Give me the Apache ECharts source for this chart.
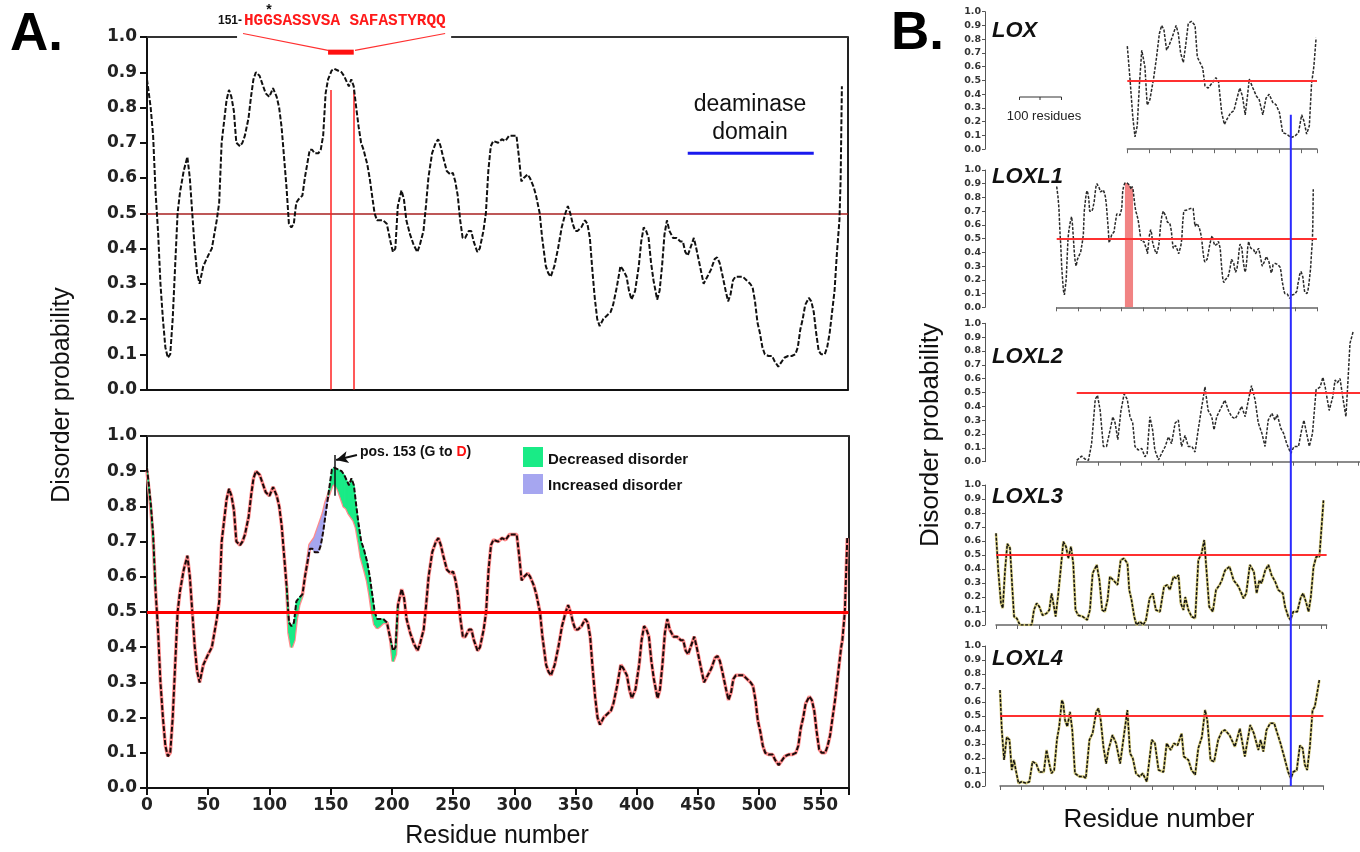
<!DOCTYPE html>
<html><head><meta charset="utf-8">
<script src="https://cdn.jsdelivr.net/npm/echarts/dist/echarts.min.js"></script>
<style>html,body{margin:0;padding:0;background:#fff}#c{width:1360px;height:852px}</style>
</head><body><div id="c"></div>
<script>
// ---------------- Panel A data (LOXL1, residues 0-573) ----------------
const residues = [
0,3,5,7,9,11,13,15,17,19,
21,23,25,27,30,33,35,37,39,41,
43,46,50,53,57,59,61,63,65,67,
69,71,73,76,78,80,83,85,87,89,
92,94,97,100,103,106,108,110,112,114,
116,118,120,122,124,127,129,131,133,135,
137,140,142,144,146,148,151,153,156,159,
161,163,165,167,169,171,173,175,177,180,
182,184,186,188,190,193,196,199,201,203,
205,208,210,212,215,218,221,223,226,228,
230,233,236,238,240,242,245,248,250,252,
254,256,258,260,263,265,267,270,272,275,
277,279,281,283,287,290,293,296,299,302,
304,306,308,311,313,316,318,321,323,326,
328,330,333,336,339,342,344,346,348,350,
352,355,358,360,362,364,366,368,370,373,
376,379,381,384,387,389,392,394,396,399,
402,404,406,408,410,412,414,417,419,421,
423,425,427,430,433,436,438,440,442,444,
447,449,452,455,458,461,464,466,468,470,
473,475,477,479,481,484,487,490,493,495,
497,499,501,503,505,508,511,513,516,518,
521,524,527,530,532,534,536,538,541,543,
545,547,549,551,554,556,558,560,562,564,
566,567,568,570,572];
// upper plot (wild type)
const disorderTop = [
.88,.80,.72,.56,.45,.30,.20,.12,.09,.10,
.20,.35,.50,.56,.62,.66,.60,.50,.40,.33,
.30,.35,.38,.40,.48,.53,.70,.76,.82,.85,
.83,.79,.70,.69,.70,.72,.77,.83,.88,.90,
.89,.87,.84,.83,.855,.83,.80,.745,.66,.575,
.47,.46,.47,.53,.54,.55,.60,.64,.68,.68,
.67,.67,.68,.72,.84,.88,.905,.91,.905,.90,
.89,.875,.86,.88,.86,.80,.745,.70,.68,.64,
.60,.55,.50,.48,.48,.48,.47,.42,.39,.40,
.52,.565,.54,.48,.44,.41,.39,.41,.45,.52,
.60,.67,.70,.71,.69,.66,.62,.61,.615,.59,
.55,.48,.43,.43,.45,.45,.42,.39,.40,.45,
.50,.62,.69,.705,.70,.71,.705,.72,.72,.72,
.66,.59,.60,.61,.60,.575,.55,.50,.43,.35,
.33,.32,.35,.40,.46,.50,.52,.50,.47,.45,
.45,.46,.48,.47,.43,.34,.26,.20,.18,.20,
.21,.22,.24,.29,.35,.34,.32,.28,.255,.28,
.35,.42,.46,.45,.43,.36,.31,.255,.28,.35,
.44,.48,.45,.43,.43,.42,.42,.39,.38,.40,
.43,.40,.35,.30,.32,.34,.37,.375,.36,.33,
.28,.25,.27,.31,.32,.32,.32,.31,.30,.29,
.25,.19,.16,.12,.10,.095,.095,.08,.065,.075,
.09,.095,.095,.10,.12,.17,.20,.24,.26,.25,
.22,.16,.11,.10,.10,.12,.16,.22,.28,.39,
.48,.60,.86,null,null];
// lower plot: wild type (black)
const disorderWT = [
.91,.81,.72,.56,.45,.30,.20,.12,.09,.10,
.20,.35,.50,.56,.62,.66,.60,.50,.40,.33,
.30,.35,.38,.40,.48,.53,.70,.76,.82,.85,
.83,.79,.70,.69,.70,.72,.77,.83,.88,.90,
.89,.87,.84,.83,.855,.83,.80,.745,.66,.575,
.47,.46,.47,.53,.54,.55,.60,.64,.68,.68,
.67,.67,.69,.73,.78,.83,.905,.91,.905,.90,
.89,.875,.86,.88,.86,.80,.745,.70,.68,.64,
.60,.55,.50,.48,.48,.48,.47,.42,.39,.40,
.52,.565,.54,.48,.44,.41,.39,.41,.45,.52,
.60,.67,.70,.71,.69,.66,.62,.61,.615,.59,
.55,.48,.43,.43,.45,.45,.42,.39,.40,.45,
.50,.62,.69,.705,.70,.71,.705,.72,.72,.72,
.66,.59,.60,.61,.60,.575,.55,.50,.43,.35,
.33,.32,.35,.40,.46,.50,.52,.50,.47,.45,
.45,.46,.48,.47,.43,.34,.26,.20,.18,.20,
.21,.22,.24,.29,.35,.34,.32,.28,.255,.28,
.35,.42,.46,.45,.43,.36,.31,.255,.28,.35,
.44,.48,.45,.43,.43,.42,.42,.39,.38,.40,
.43,.40,.35,.30,.32,.34,.37,.375,.36,.33,
.28,.25,.27,.31,.32,.32,.32,.31,.30,.29,
.25,.19,.16,.12,.10,.095,.095,.08,.065,.075,
.09,.095,.095,.10,.12,.17,.20,.24,.26,.25,
.22,.16,.11,.10,.10,.12,.15,.20,.25,.31,
.37,.40,.42,.50,.71];
// lower plot: G153D mutant (pink)
const disorderG153D = [
.90,.80,.71,.56,.45,.30,.20,.12,.09,.10,
.20,.35,.50,.56,.62,.66,.60,.50,.40,.33,
.30,.35,.38,.40,.48,.53,.70,.76,.82,.85,
.83,.79,.70,.69,.70,.72,.77,.83,.88,.90,
.89,.87,.84,.83,.855,.83,.80,.745,.66,.575,
.44,.40,.42,.48,.52,.55,.60,.64,.69,.70,
.71,.74,.76,.78,.81,.83,.86,.865,.85,.82,
.80,.795,.78,.77,.76,.74,.70,.655,.63,.59,
.55,.50,.465,.455,.46,.47,.47,.42,.36,.38,
.52,.565,.54,.48,.44,.41,.39,.41,.45,.52,
.60,.67,.70,.71,.69,.66,.62,.61,.615,.59,
.55,.48,.43,.43,.45,.45,.42,.39,.40,.45,
.50,.62,.69,.705,.70,.71,.705,.72,.72,.72,
.66,.59,.60,.61,.60,.575,.55,.50,.43,.35,
.33,.32,.35,.40,.46,.50,.52,.50,.47,.45,
.45,.46,.48,.47,.43,.34,.26,.20,.18,.20,
.21,.22,.24,.29,.35,.34,.32,.28,.255,.28,
.35,.42,.46,.45,.43,.36,.31,.255,.28,.35,
.44,.48,.45,.43,.43,.42,.42,.39,.38,.40,
.43,.40,.35,.30,.32,.34,.37,.375,.36,.33,
.28,.25,.27,.31,.32,.32,.32,.31,.30,.29,
.25,.19,.16,.12,.10,.095,.095,.08,.065,.075,
.09,.095,.095,.10,.12,.17,.20,.24,.26,.25,
.22,.16,.11,.10,.10,.12,.15,.20,.25,.31,
.37,.40,.42,.50,.71];

// ---------------- Panel B data ----------------
const loxRes = [0,6,12,17,22,27,32,35,39,44,50,58,64,71,76,81,87,93,100,108,113,118,124,129,135,142,150,155,161,167,172,179,185,190,196,202,209,215,221,229,236,242,249,255,261,266,270,278,286,292,300,307,314,322,329,337,344,353,362,371,379,386,391,397,403,408,413,418];
const loxVal = [.75,.51,.24,.09,.17,.48,.72,.73,.60,.32,.36,.51,.65,.84,.90,.87,.72,.76,.82,.90,.84,.70,.63,.75,.915,.93,.90,.67,.63,.59,.46,.445,.47,.49,.52,.49,.265,.18,.22,.265,.28,.36,.445,.385,.25,.385,.51,.445,.385,.36,.25,.37,.40,.34,.325,.265,.12,.11,.085,.095,.12,.25,.205,.11,.17,.48,.60,.81];
const loxl2Res = [0,11,18,26,33,41,46,52,59,66,74,80,85,91,98,105,112,118,124,129,136,144,151,156,162,168,173,181,188,196,203,210,218,225,232,240,247,255,262,269,277,284,291,299,304,310,319,328,336,343,351,358,365,373,380,387,395,402,410,417,424,432,439,444,452,458,465,474,481,491,498,503,509,515,522,530,539,545,550,559,567,572,577,583,590,596,601,605,612];
const loxl2Val = [.01,.04,.02,.01,.13,.45,.48,.37,.11,.11,.23,.325,.28,.16,.37,.49,.45,.325,.28,.11,.085,.096,.036,.06,.325,.23,.085,.012,.06,.11,.18,.13,.28,.30,.11,.19,.11,.11,.07,.23,.40,.54,.37,.325,.23,.325,.385,.445,.37,.325,.31,.35,.40,.325,.445,.55,.445,.28,.205,.11,.30,.35,.30,.34,.24,.205,.13,.06,.11,.11,.23,.30,.205,.11,.205,.52,.54,.61,.54,.37,.47,.59,.57,.60,.445,.325,.61,.855,.94];
const loxl3Res = [0,5,11,15,20,25,31,36,40,46,53,68,79,84,90,96,103,112,118,123,127,132,138,143,149,155,160,166,171,176,182,192,202,208,214,223,229,235,241,247,252,260,269,276,283,291,295,300,306,311,319,326,332,340,347,354,363,372,379,385,393,399,404,409,415,419,426,433,441,448,455,461,466,472,480,487,495,500,507,517,526,537,548,554,562,571,577,583,588,596,603,610,618,625,635,640,647,652,658,667,675,680,686,692,697,703,709,716,725];
const loxl3Val = [.655,.39,.155,.12,.39,.58,.55,.27,.06,.048,0,0,0,.107,.155,.13,.07,.083,.107,.226,.155,.06,.226,.39,.595,.56,.476,.56,.44,.107,.07,.06,.036,.107,.37,.43,.32,.107,.095,.18,.345,.32,.286,.464,.476,.44,.25,.18,.06,0,.024,0,.036,.19,.226,.107,.095,.274,.286,.25,.345,.333,.357,.155,.107,.20,.107,.06,.048,.464,.51,.607,.39,.13,.095,.25,.286,.32,.39,.417,.32,.274,.19,.226,.43,.38,.226,.32,.298,.39,.43,.357,.31,.25,.226,.13,.06,.036,.095,.095,.20,.226,.167,.095,.20,.417,.488,.488,.89];
const loxl4Res = [0,4,9,15,21,26,31,35,41,48,58,65,72,80,87,97,103,109,114,120,126,131,137,140,144,149,155,160,166,176,185,190,198,205,213,218,223,229,235,240,249,257,266,273,282,288,294,301,309,316,325,328,336,343,351,362,369,378,385,393,402,407,417,424,432,439,447,454,459,466,474,483,491,498,508,520,531,542,554,562,572,577,583,590,598,607,614,621,631,638,644,649,657,664,670,675,680,686,692,697,707];
const loxl4Val = [.686,.40,.186,.35,.33,.114,.186,.114,.02,.03,.02,.03,.174,.16,.10,.10,.257,.16,.09,.114,.33,.424,.614,.59,.47,.424,.53,.40,.09,.067,.067,.055,.33,.376,.53,.555,.47,.28,.16,.257,.364,.305,.16,.33,.543,.233,.198,.09,.067,.09,.03,.03,.33,.305,.114,.10,.305,.257,.305,.29,.376,.21,.186,.114,.08,.27,.35,.543,.47,.186,.174,.33,.388,.40,.364,.28,.41,.21,.436,.376,.257,.33,.245,.40,.448,.448,.376,.305,.186,.10,.055,.10,.114,.29,.27,.15,.114,.28,.543,.567,.757];

// annotation values
const highlightStart = 151, highlightEnd = 170;
const mutationPos = 153;
const deaminaseDomain = [442, 545];
const cutoff = 0.5;
const alignedLOX = 362, alignedLOXL4 = 644;
const seqText = 'HGGSASSVSA SAFASTYRQQ';

// ---------------- build ----------------
const chart = echarts.init(document.getElementById('c'), null, {renderer:'canvas'});
const pair = (xs, ys) => xs.map((x, i) => [x, ys[i]]);
const SANS = "'Liberation Sans', Arial, Helvetica, sans-serif";
const AXF = "'DejaVu Sans', sans-serif";
const A_MAX = 573;
const PXB = 0.4517;
const GREEN = '#19eb86', LAVENDER = '#a6a6f0';
const grids = [], xAxes = [], yAxes = [], series = [];
const noSplit = {show:false};
const fmt1 = v => v.toFixed(1);

// Panel A grids
grids.push({left:147, top:37, width:701, height:352.5, containLabel:false, outerBoundsMode:'none'});
grids.push({left:147, top:436, width:701.5, height:352, containLabel:false, outerBoundsMode:'none'});

const axLineA = {show:true, onZero:false, lineStyle:{color:'#111', width:2}};
xAxes.push({gridIndex:0, type:'value', min:0, max:A_MAX, axisLine:axLineA, axisTick:{show:false}, axisLabel:{show:false}, splitLine:noSplit});
xAxes.push({gridIndex:1, type:'value', min:0, max:A_MAX, interval:50, axisLine:axLineA,
  axisTick:{show:true, length:7, lineStyle:{color:'#111', width:2}},
  axisLabel:{formatter:v => (v % 50 === 0 ? String(v) : ''), fontFamily:AXF, fontWeight:'bold', fontSize:17, color:'#222', margin:9},
  splitLine:noSplit});
xAxes.push({gridIndex:1, type:'value', position:'top', min:0, max:A_MAX, axisLine:{show:true, onZero:false, lineStyle:{color:'#333', width:2}}, axisTick:{show:false}, axisLabel:{show:false}, splitLine:noSplit});

const yLeftA = gi => ({gridIndex:gi, type:'value', min:0, max:1, interval:0.1, position:'left',
  axisLine:axLineA, axisTick:{show:true, length:7, lineStyle:{color:'#111', width:2}},
  axisLabel:{formatter:fmt1, fontFamily:AXF, fontWeight:'bold', fontSize:17, color:'#222', margin:10},
  splitLine:noSplit});
const yRightA = gi => ({gridIndex:gi, type:'value', min:0, max:1, position:'right',
  axisLine:{show:true, onZero:false, lineStyle:{color:'#222', width:2}}, axisTick:{show:false}, axisLabel:{show:false}, splitLine:noSplit});
yAxes.push(yLeftA(0), yRightA(0), yLeftA(1), yRightA(1));

const noMarkLabel = {show:false};
// Top plot curve + reference lines
series.push({type:'line', xAxisIndex:0, yAxisIndex:0, data:pair(residues, disorderTop), showSymbol:false, silent:true, z:5,
  lineStyle:{color:'#111', width:2, type:[5,2]},
  markLine:{silent:true, symbol:['none','none'], label:noMarkLabel, animation:false, data:[
    [{coord:[0,cutoff], lineStyle:{color:'#a82020', width:1.5, type:'solid'}}, {coord:[A_MAX,cutoff]}],
    [{coord:[highlightStart-1,0], lineStyle:{color:'#ff2222', width:1.5, type:'solid'}}, {coord:[highlightStart-1,0.85]}],
    [{coord:[highlightEnd-1,0], lineStyle:{color:'#ff2222', width:1.5, type:'solid'}}, {coord:[highlightEnd-1,0.85]}],
    [{coord:[0,1], lineStyle:{color:'#333', width:2, type:'solid'}}, {coord:[73.6,1]}],
    [{coord:[248.6,1], lineStyle:{color:'#333', width:2, type:'solid'}}, {coord:[A_MAX,1]}]
  ]}});
// sequence bracket
const segLine = (pts, color, width) => ({type:'line', xAxisIndex:0, yAxisIndex:0, data:pts, showSymbol:false, silent:true, clip:false, z:6, lineStyle:{color, width}});
series.push(segLine([[highlightStart-3,0.957],[highlightEnd-1,0.957]], '#ff1010', 5));
series.push(segLine([[78.5,1.01],[highlightStart-3,0.962]], '#ff3030', 1.2));
series.push(segLine([[highlightEnd,0.962],[243.7,1.01]], '#ff3030', 1.2));
// deaminase domain bar
series.push(segLine([[deaminaseDomain[0],0.67],[deaminaseDomain[1],0.67]], '#1a1aee', 3));

// Lower plot: filled band between WT and mutant (green = decreased, lavender = increased)
const band = [];
for (let i = 0; i < residues.length - 1; i++) {
  const d0 = disorderWT[i] - disorderG153D[i], d1 = disorderWT[i+1] - disorderG153D[i+1];
  if (d0 === 0 && d1 === 0) continue;
  band.push([residues[i], residues[i+1], disorderWT[i], disorderWT[i+1], disorderG153D[i], disorderG153D[i+1]]);
}
series.push({type:'line', xAxisIndex:1, yAxisIndex:2, data:pair(residues, disorderG153D), showSymbol:false, silent:true, z:2,
  lineStyle:{color:'#ff8c8c', width:3.5}});
series.push({type:'custom', xAxisIndex:1, yAxisIndex:2, data:band, silent:true, z:3, clip:true,
  encode:{x:[0,1], y:[2,3,4,5]},
  renderItem:(params, api) => {
    const x0 = api.value(0), x1 = api.value(1), w0 = api.value(2), w1 = api.value(3), m0 = api.value(4), m1 = api.value(5);
    const dec = (w0 - m0) + (w1 - m1) > 0;
    const fill = dec ? GREEN : LAVENDER;
    return {type:'polygon', shape:{points:[api.coord([x0,w0]), api.coord([x1,w1]), api.coord([x1,m1]), api.coord([x0,m0])]},
      style:{fill, stroke:fill, lineWidth:1}};
  }});
series.push({type:'line', xAxisIndex:1, yAxisIndex:2, data:pair(residues, disorderWT), showSymbol:false, silent:true, z:4,
  lineStyle:{color:'#1a0a0a', width:2, type:[5,2]},
  markLine:{silent:true, symbol:['none','none'], label:noMarkLabel, animation:false, data:[
    [{coord:[0,cutoff], lineStyle:{color:'#ff0000', width:3, type:'solid'}}, {coord:[A_MAX,cutoff]}],
    [{coord:[mutationPos,0.83], lineStyle:{color:'#111', width:1.5, type:'solid'}}, {coord:[mutationPos,0.946]}],
    [{coord:[171.5,0.946], symbol:'none', lineStyle:{color:'#111', width:2, type:'solid'}}, {coord:[154.5,0.932], symbol:'arrow', symbolSize:[9,12]}]
  ]}});

// Panel B small plots
const Bplots = [
  {name:'LOX',   res:loxRes,   val:loxVal,      left:1127.3, top:11.7,  h:137.5, max:420, tone:'grey'},
  {name:'LOXL1', res:residues, val:disorderTop, left:1056.7, top:170,   h:137.3, max:576, tone:'grey'},
  {name:'LOXL2', res:loxl2Res, val:loxl2Val,    left:1076.7, top:323.3, h:138.4, max:774, tone:'grey'},
  {name:'LOXL3', res:loxl3Res, val:loxl3Val,    left:996,    top:485,   h:140,   max:732, tone:'olive'},
  {name:'LOXL4', res:loxl4Res, val:loxl4Val,    left:1000,   top:646,   h:140,   max:716, tone:'olive'}
];
const B_AXIS_X = 985;
Bplots.forEach((b, i) => {
  const gi = 2 + i;
  grids.push({left:b.left, top:b.top, width:b.max*PXB, height:b.h, containLabel:false, outerBoundsMode:'none'});
  xAxes.push({gridIndex:gi, type:'value', min:0, max:b.max, interval:48,
    axisLine:{show:true, onZero:false, lineStyle:{color:'#666', width:1.5}},
    axisTick:{show:true, length:4, lineStyle:{color:'#666', width:1}}, axisLabel:{show:false}, splitLine:noSplit});
  yAxes.push({gridIndex:gi, type:'value', min:0, max:1, interval:0.1, position:'left', offset:b.left - B_AXIS_X,
    axisLine:{show:true, onZero:false, lineStyle:{color:'#555', width:1}},
    axisTick:{show:true, length:3, lineStyle:{color:'#555'}},
    axisLabel:{formatter:fmt1, fontFamily:AXF, fontWeight:'bold', fontSize:9.5, color:'#333', margin:4},
    splitLine:noSplit});
  const xi = 3 + i, yi = 4 + i;
  if (b.tone === 'olive') {
    series.push({type:'line', xAxisIndex:xi, yAxisIndex:yi, data:pair(b.res, b.val), showSymbol:false, silent:true, z:3,
      lineStyle:{color:'#d2c87c', width:2.6}});
  }
  series.push({type:'line', xAxisIndex:xi, yAxisIndex:yi, data:pair(b.res, b.val), showSymbol:false, silent:true, z:4,
    lineStyle:{color:b.tone === 'olive' ? '#111' : '#2a2a2a', width:1.5, type:[3,1.5]},
    markLine:{silent:true, symbol:['none','none'], label:noMarkLabel, animation:false,
      data:[[{coord:[0,cutoff], lineStyle:{color:'#ff3030', width:1.8, type:'solid'}}, {coord:[b.max,cutoff]}]]}});
  if (b.name === 'LOXL1') {
    const seg = pair(residues, disorderTop).filter(p => p[0] >= highlightStart && p[0] <= highlightEnd);
    series.push({type:'line', xAxisIndex:xi, yAxisIndex:yi, data:seg, showSymbol:false, silent:true, z:2,
      lineStyle:{width:0}, areaStyle:{color:'#f07c7c', opacity:0.95}});
  }
});

const option = {
  animation:false, backgroundColor:'#fff',
  grid:grids, xAxis:xAxes, yAxis:yAxes, series:series
};
chart.setOption(option);

// ---------------- text & annotations ----------------
const T = (text, x, y, font, fill, align, extra) => Object.assign({type:'text', x, y, silent:true, z:50,
  style:{text, x:0, y:0, font, fill:fill || '#000', textAlign:align || 'left', align:align || 'left', textVerticalAlign:'middle', verticalAlign:'middle'}}, extra || {});
const g = [];
g.push(T('A.', 10, 35, `bold 53px ${SANS}`));
g.push(T('B.', 891, 34, `bold 53px ${SANS}`));
g.push(T('151-', 218, 21, `bold 12px ${SANS}`, '#111'));
g.push(T(seqText, 244, 21, `bold 16px 'Liberation Mono', 'Courier New', monospace`, '#ff1a1a'));
g.push(T('*', 269, 10, `bold 14px ${SANS}`, '#111', 'center'));
g.push(T('deaminase', 750, 105, `23px ${SANS}`, '#111', 'center'));
g.push(T('domain', 750, 133, `23px ${SANS}`, '#111', 'center'));
g.push({type:'text', x:360, y:452, silent:true, z:50, style:{text:'{a|pos. 153 (G to }{b|D}{a|)}', x:0, y:0, textVerticalAlign:'middle', verticalAlign:'middle',
  rich:{a:{font:`bold 14px ${SANS}`, fill:'#111', color:'#111'}, b:{font:`bold 14px ${SANS}`, fill:'#ff1010', color:'#ff1010'}}}});
g.push({type:'rect', shape:{x:523, y:447, width:20, height:20}, style:{fill:GREEN}, silent:true, z:50});
g.push({type:'rect', shape:{x:523, y:474, width:20, height:20}, style:{fill:LAVENDER}, silent:true, z:50});
g.push(T('Decreased disorder', 548, 460, `bold 15px ${SANS}`, '#111'));
g.push(T('Increased disorder', 548, 486, `bold 15px ${SANS}`, '#111'));
g.push(T('Disorder probability', 62, 395, `25px ${SANS}`, '#111', 'center', {rotation:Math.PI/2}));
g.push(T('Residue number', 497, 836, `25px ${SANS}`, '#111', 'center'));
g.push(T('Disorder probability', 931, 435, `26px ${SANS}`, '#111', 'center', {rotation:Math.PI/2}));
g.push(T('Residue number', 1159, 820, `26px ${SANS}`, '#111', 'center'));
const labelY = [31, 177, 357, 497, 659];
Bplots.forEach((b, i) => g.push(T(b.name, 992, labelY[i], `italic bold 22px ${SANS}`, '#111')));
// 100 residues scale bar
g.push({type:'polyline', shape:{points:[[1019.5,100],[1019.5,97],[1061.5,97],[1061.5,100]]}, style:{stroke:'#333', lineWidth:1, fill:null}, silent:true, z:50});
g.push({type:'line', shape:{x1:1040, y1:97, x2:1040, y2:100}, style:{stroke:'#333', lineWidth:1}, silent:true, z:50});
g.push(T('100 residues', 1044, 116, `13px ${SANS}`, '#222', 'center'));
// blue alignment line through panel B
const pTop = chart.convertToPixel({gridIndex:2}, [alignedLOX, 0.25]);
const pBot = chart.convertToPixel({gridIndex:6}, [alignedLOXL4, 0]);
g.push({type:'line', shape:{x1:pTop[0], y1:pTop[1], x2:pTop[0], y2:pBot[1]}, style:{stroke:'#2b2bff', lineWidth:2}, silent:true, z:60});
chart.setOption({graphic:g});
</script></body></html>
